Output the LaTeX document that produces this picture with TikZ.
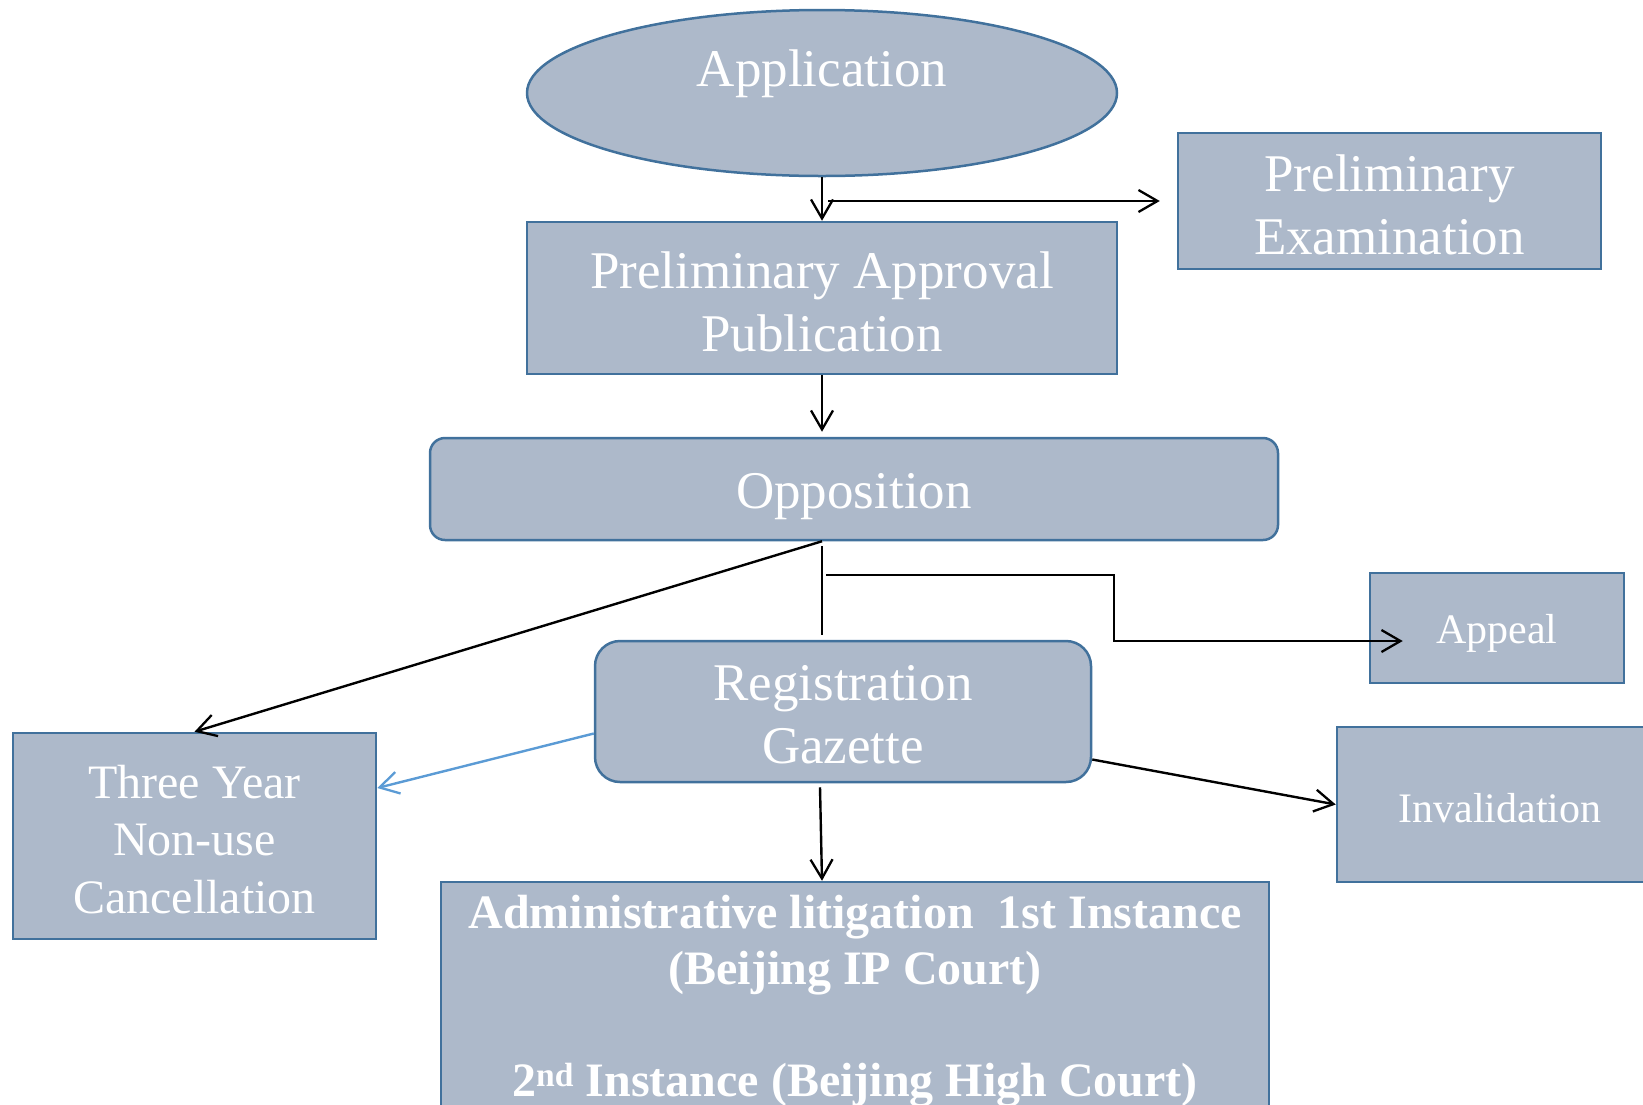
\documentclass[tikz,border=0pt]{standalone}
\usepackage{fontspec}
\setmainfont{Liberation Serif}
\usetikzlibrary{arrows.meta,shapes.geometric,calc}
\definecolor{boxfill}{HTML}{ADB9CA}
\definecolor{boxline}{HTML}{41719C}
\definecolor{bluearr}{HTML}{5B9BD5}
\begin{document}
\begin{tikzpicture}[x=1pt,y=-1pt,
  box/.style={draw=boxline, fill=boxfill, line width=2.5pt, inner sep=0pt},
  txt/.style={inner sep=0pt, text=white, align=center},
  big/.style={font=\fontsize{53}{63}\selectfont},
  mid/.style={font=\fontsize{48}{57.5}\selectfont},
  small/.style={font=\fontsize{42}{50}\selectfont},
  arr/.style={-{Straight Barb[length=19pt,width=22pt,line width=2.3pt]}, line width=2.4pt, draw=black},
  barr/.style={-{Straight Barb[length=19pt,width=22pt,line width=2.3pt]}, line width=2.4pt, draw=bluearr},
]
\useasboundingbox (0,0) rectangle (1643,1104);
\clip (0,0) rectangle (1643,1104);

% nodes
\node[box, ellipse, minimum width=590pt, minimum height=166pt,
  label={[txt,big,yshift=19.5pt]center:Application}] (app) at (822,93) {};
\node[box, minimum width=423pt, minimum height=136pt,
  label={[txt,big,yshift=-3.5pt]center:Preliminary\\Examination}] (pe) at (1389.5,201) {};
\node[box, minimum width=590pt, minimum height=152pt,
  label={[txt,big,yshift=-3.5pt]center:Preliminary Approval\\Publication}] (pap) at (822,298) {};
\node[box, rounded corners=15pt, minimum width=848pt, minimum height=102pt,
  label={[txt,big,yshift=-8pt]center:Opposition}] (opp) at (854,489) {};
\node[box, minimum width=254pt, minimum height=110pt,
  label={[txt,small,yshift=-5pt]center:Appeal}] (appeal) at (1497,628) {};
\node[box, rounded corners=25pt, minimum width=496pt, minimum height=141pt,
  label={[txt,big,yshift=-3.5pt]center:Registration\\Gazette}] (rg) at (843,711.5) {};
\node[box, minimum width=326pt, minimum height=155pt,
  label={[txt,small,yshift=-4pt]center:Invalidation}] (inv) at (1500,804.5) {};
\node[box, minimum width=363pt, minimum height=206pt,
  label={[txt,mid,yshift=-3.5pt]center:Three Year\\Non-use\\Cancellation}] (ty) at (194.5,836) {};
\node[box, minimum width=828pt, minimum height=248pt] (adm) at (855,1006) {};
\node[txt, anchor=north, font=\fontsize{48}{56}\selectfont\bfseries] (admtext) at (855,894.5)
  {Administrative litigation\ \ 1st Instance\\(Beijing IP Court)\\[56pt]2\textsuperscript{nd} Instance (Beijing High Court)};

% connectors
\coordinate (ob) at (pap.south |- opp.south);
\draw[arr] (app.south) -- (pap.north);
\draw[arr] ([xshift=6pt]app.south |- pe.west) -- ([xshift=-17pt]pe.west);
\draw[arr, shorten >=5pt] (pap.south) -- (pap.south |- opp.north);
\draw[arr] (ob) -- (ty.north);
\draw[line width=1.3pt] ([yshift=-5pt]ob) -- ([yshift=5pt]ob |- rg.north);
\draw[arr] ([xshift=4pt,yshift=-34pt]ob) -- ++(288,0) |- ([xshift=34pt,yshift=-13pt]appeal.west);
\draw[barr] ([yshift=-22pt]rg.west) -- ([yshift=48pt]ty.east);
\draw[arr] ([yshift=-48pt]rg.east) -- (inv.west);
\draw[arr] ([xshift=-23pt,yshift=-4pt]rg.south) -- ([xshift=-33pt]adm.north);
\end{tikzpicture}
\end{document}
